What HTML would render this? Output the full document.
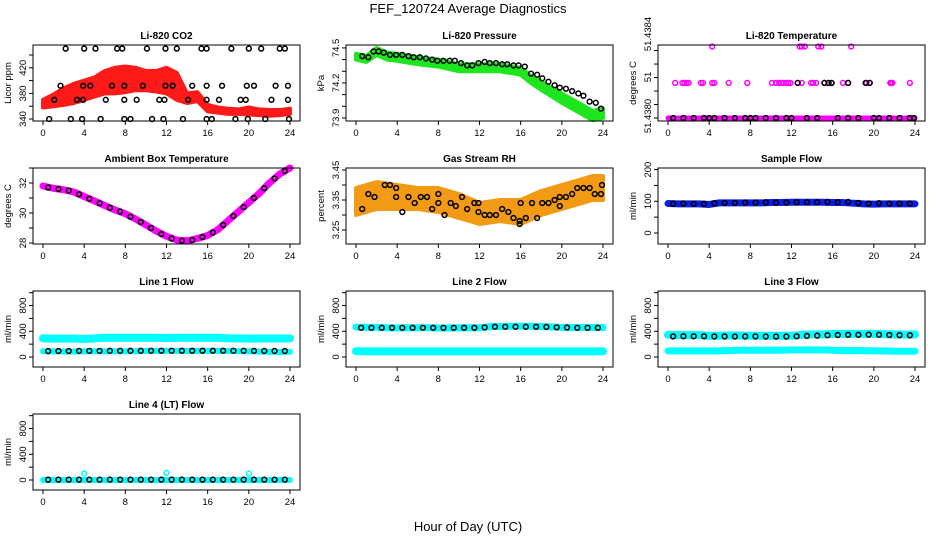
<!DOCTYPE html>
<html><head><meta charset="utf-8"><style>
html,body{margin:0;padding:0;background:#fff;}
svg{display:block;font-family:"Liberation Sans",Arial,sans-serif;}
</style></head><body>
<svg id="fig" width="936" height="540" viewBox="0 0 936 540">
<text x="468" y="13" text-anchor="middle" font-size="13">FEF_120724  Average Diagnostics</text>
<text x="468" y="531" text-anchor="middle" font-size="13">Hour of Day (UTC)</text>
</svg>
<script>
// ---------- data ----------
const hourTicks=[0,4,8,12,16,20,24];
const hrs25=[0,1,2,3,4,5,6,7,8,9,10,11,12,13,14,15,16,17,18,19,20,21,22,23,24];
const hrsMid=[0.5,1.5,2.5,3.5,4.5,5.5,6.5,7.5,8.5,9.5,10.5,11.5,12.5,13.5,14.5,15.5,16.5,17.5,18.5,19.5,20.5,21.5,22.5,23.5];

// CO2
const co2Lo=[358,360,362,365,370,375,380,380,382,385,385,383,380,370,365,368,352,350,348,348,347,346,345,346,348];
const co2Hi=[370,378,388,395,400,405,415,420,422,420,415,415,420,412,380,382,362,358,356,355,358,355,354,354,356];
const co2BlackHour=[2.2,4,5.1,7.2,7.7,10.1,11.9,13,15.4,15.9,18.3,20,21.2,23,23.5,1.7,3.9,4.6,6.7,7.9,9.7,11.9,12.6,14.5,15.9,17.4,19.8,20.5,22.6,23.8,1.1,3.3,3.9,6.1,7.9,9.1,11.3,11.8,14.1,15.9,17.1,19.2,19.7,22.2,23.8,0.6,2.7,3.8,5.6,7.9,8.5,10.6,11.7,13.6,15.9,16.4,18.7,19.9,21.6,23.9];
const co2BlackPpm=[450,450,450,450,450,450,450,450,450,450,450,450,450,450,450,392,392,392,392,392,392,392,392,392,392,392,392,392,392,392,370,370,370,370,370,370,370,370,370,370,370,370,370,370,370,340,340,340,340,340,340,340,340,340,340,340,340,340,340,340];

// Pressure
const presHour=[0,1,2,3,4,6,8,10,12,14,16,17,18,20,22,23,24];
const presLo=[74.40,74.38,74.44,74.40,74.39,74.36,74.34,74.30,74.30,74.30,74.27,74.20,74.14,74.03,73.93,73.88,73.90];
const presHi=[74.45,74.43,74.50,74.46,74.45,74.42,74.40,74.36,74.36,74.36,74.33,74.26,74.21,74.11,74.01,73.96,73.98];
const presBlackHour=[0.6,1.2,1.7,2.2,2.7,3.3,3.9,4.5,5.1,5.6,6.2,6.8,7.4,7.9,8.5,9.1,9.6,10.2,10.8,11.3,11.9,12.5,13.0,13.6,14.2,14.7,15.3,15.8,16.4,17.0,17.6,18.1,18.7,19.3,19.8,20.4,21.0,21.6,22.1,22.7,23.3,23.8];
const presBlack=[74.43,74.42,74.47,74.47,74.46,74.44,74.44,74.44,74.43,74.42,74.42,74.41,74.40,74.39,74.39,74.39,74.39,74.37,74.35,74.35,74.37,74.38,74.37,74.37,74.36,74.36,74.35,74.35,74.34,74.28,74.27,74.24,74.21,74.18,74.16,74.15,74.13,74.11,74.09,74.04,74.03,73.98];

// Li-820 temperature
const tempMidHour=[0.7,1.4,1.6,1.8,2.0,3.2,3.4,4.3,4.5,5.9,7.7,10.1,10.5,10.8,11.0,11.2,11.5,11.7,11.9,12.6,13.0,13.9,14.1,14.4,15.2,15.6,15.9,17.0,17.5,19.3,19.6,21.6,21.7,21.8,23.5];
const tempMid=[51.43826,51.43826,51.43826,51.43826,51.43826,51.43826,51.43826,51.43826,51.43826,51.43826,51.43826,51.43826,51.43826,51.43826,51.43826,51.43826,51.43826,51.43826,51.43826,51.43826,51.43826,51.43826,51.43826,51.43826,51.43826,51.43826,51.43826,51.43826,51.43826,51.43826,51.43826,51.43826,51.43826,51.43826,51.43826];
const tempTopHour=[4.3,12.8,13.0,13.3,14.6,14.9,17.8];
const tempTop=[51.43853,51.43853,51.43853,51.43853,51.43853,51.43853,51.43853];
const tempBlackHour=[0.5,1.5,2.5,3.5,4.0,4.5,5.5,6.5,7.5,8.0,8.5,9.5,10.5,11.5,12.0,12.6,13.5,14.5,15.2,15.6,15.9,16.5,17.5,17.5,18.5,19.2,19.6,20.0,20.5,21.5,22.5,23.5,23.9];
const tempBlack=[51.4380,51.4380,51.4380,51.4380,51.4380,51.4380,51.4380,51.4380,51.4380,51.4380,51.4380,51.4380,51.4380,51.4380,51.4380,51.43826,51.4380,51.4380,51.43826,51.43826,51.43826,51.4380,51.4380,51.43826,51.4380,51.43826,51.43826,51.4380,51.4380,51.4380,51.4380,51.4380,51.4380];

// Ambient box temperature
const ambient=[31.8,31.65,31.55,31.4,31.1,30.8,30.5,30.2,29.95,29.6,29.2,28.8,28.45,28.2,28.15,28.3,28.5,28.9,29.5,30.1,30.7,31.3,32.0,32.6,33.0];
const ambientBlack=[31.7,31.6,31.5,31.25,30.95,30.65,30.35,30.1,29.75,29.4,29.0,28.6,28.3,28.15,28.2,28.4,28.7,29.2,29.8,30.4,31.0,31.65,32.3,32.8];

// Gas stream RH
const rhHour=[0,2,4,6,8,10,12,14,16,18,20,22,23,24];
const rhLo=[3.30,3.32,3.32,3.32,3.31,3.29,3.27,3.28,3.27,3.30,3.32,3.34,3.35,3.35];
const rhHi=[3.39,3.41,3.40,3.39,3.39,3.37,3.34,3.35,3.35,3.38,3.40,3.42,3.43,3.43];
const rhBlackHour=[0.6,1.2,1.8,2.8,3.3,3.9,3.9,4.5,5.1,5.7,6.3,6.9,7.4,8,8,8.6,9.2,9.7,10.3,10.8,11.5,11.9,11.9,12.5,13,13.6,14.2,14.8,15.3,15.9,15.9,16.0,16.5,17.1,17.6,18.1,18.7,19.3,19.8,19.8,20.4,21,21.5,22.1,22.7,23.2,23.8,23.9];
const rhBlack=[3.32,3.37,3.36,3.40,3.40,3.39,3.36,3.31,3.36,3.34,3.36,3.36,3.32,3.37,3.34,3.30,3.34,3.33,3.36,3.32,3.34,3.34,3.31,3.30,3.30,3.30,3.32,3.31,3.29,3.28,3.27,3.34,3.29,3.34,3.29,3.34,3.34,3.35,3.36,3.33,3.36,3.37,3.39,3.39,3.39,3.37,3.37,3.40];

// Sample flow
const sampleFlow=[93,92,92,92,90,95,95,95,95,95,96,96,97,97,97,97,96,96,94,92,91,92,92,92,92];
const sampleBlack=[92,93,92,92,94,95,95,96,96,97,96,96,97,97,97,98,97,98,95,93,94,93,93,93];

// Line flows
const line1Upper=[290,285,285,285,280,290,300,300,300,300,300,300,295,300,300,300,300,300,290,290,285,290,290,290,290];
const line1Lower=[90,90,85,85,90,90,90,90,90,90,95,95,95,95,95,95,95,95,95,90,90,85,80,80,80];
const line1Black=[92,93,93,94,95,95,96,96,96,96,97,97,97,97,97,97,97,97,96,96,95,94,94,93];
const line2Upper=[465,460,460,455,450,455,455,455,450,450,455,455,455,470,475,478,480,478,472,468,460,458,458,458,458];
const line2Lower=[90,88,88,88,88,88,88,88,88,88,88,88,88,88,88,88,88,88,88,88,88,88,88,88,88];
const line2Black=[455,455,455,455,455,455,455,455,455,455,455,455,460,470,470,470,470,470,468,462,458,455,455,455];
const line3Upper=[345,340,340,340,330,330,335,335,330,330,330,330,330,345,350,350,360,360,360,360,360,355,350,350,350];
const line3Lower=[95,95,95,95,95,95,100,105,105,105,105,105,110,110,110,110,105,100,100,100,95,95,90,90,90];
const line3Black=[320,322,322,322,320,320,318,320,320,318,318,318,322,328,332,338,342,345,345,348,345,342,340,338];
const line4Lower=[0,0,0,0,0,0,0,0,0,0,0,0,0,0,0,0,0,0,0,0,0,0,0,0,0];
const line4SpikeHour=[4,12,20];
const line4Spike=[100,110,100];
const line4Black=[5,5,5,5,5,5,5,5,5,5,5,5,5,5,5,5,5,5,5,5,5,5,5,5];

// ---------- drawing ----------
const NS='http://www.w3.org/2000/svg';
const svg=document.getElementById('fig');
const W=267,H=76;
function el(tag,attrs,parent){const e=document.createElementNS(NS,tag);for(const k in attrs)e.setAttribute(k,attrs[k]);(parent||svg).appendChild(e);return e;}

function panel(name,L,T,ymin,ymax,title,ylab,yTicks,yLabels,yLabelPos){
  const g=el('g',{});
  
  
  const xs=h=>L+10+h*(247/24);
  const ys=v=>T+H-(v-ymin)/(ymax-ymin)*H;
  const t=el('text',{x:L+W/2,y:T-6,'text-anchor':'middle','font-size':10,'font-weight':'bold'},g);
  t.textContent=title;
  
  
  const yl=el('text',{x:0,y:0,'text-anchor':'middle','font-size':9.5,transform:`translate(${L-22},${T+H/2}) rotate(-90)`},g);
  yl.textContent=ylab;
  
  
  hourTicks.forEach(h=>{
    const tk=el('line',{x1:xs(h),x2:xs(h),y1:T+H,y2:T+H+4,stroke:'#000','stroke-width':1},g);
    
    
    const lb=el('text',{x:xs(h),y:T+H+15,'text-anchor':'middle','font-size':9.5},g);
    lb.textContent=h;
    
    
  });
  yTicks.forEach((v,i)=>{
    const tk=el('line',{x1:L-4,x2:L,y1:ys(v),y2:ys(v),stroke:'#000','stroke-width':1},g);
    
    
    if(yLabels[i]!==''){
      const cy=yLabelPos?yLabelPos[i]:ys(v);
      const lb=el('text',{x:0,y:0,'text-anchor':'middle','font-size':9.5,transform:`translate(${L-7},${cy}) rotate(-90)`},g);
      lb.textContent=yLabels[i];
      
      
    }
  });
  const plot=el('g',{},g);
  
  
  const box=el('rect',{x:L,y:T,width:W,height:H,fill:'none',stroke:'#000','stroke-width':1},g);
  
  
  return {xs,ys,plot};
}
function bandPoly(p,hours,lo,hi,fill,name){
  const pts=hours.map((h,i)=>p.xs(h)+','+p.ys(hi[i])).concat(hours.map((h,i)=>[h,i]).reverse().map(([h,i])=>p.xs(h)+','+p.ys(lo[i])));
  const b=el('polygon',{points:pts.join(' '),fill:fill,stroke:fill,'stroke-width':4,'stroke-linejoin':'round'},p.plot);
  
  
}
function thickLine(p,hours,vals,color,w,name){
  const l=el('polyline',{points:hours.map((h,i)=>p.xs(h)+','+p.ys(vals[i])).join(' '),fill:'none',stroke:color,'stroke-width':w,'stroke-linejoin':'round','stroke-linecap':'round'},p.plot);
  
  
}
function circles(p,hours,vals,color,name,r){
  hours.forEach((h,i)=>{
    const c=el('circle',{cx:p.xs(h),cy:p.ys(vals[i]),r:r||2.4,fill:'none',stroke:color,'stroke-width':1.5},p.plot);
    
    
  });
}
const cols=[33,346,658],rows=[45,168,291,414];
const flowTicks=[0,200,400,600,800,1000],flowLabels=['0','','400','','800',''];

let p=panel('co2',cols[0],rows[0],336.9,455.6,'Li-820 CO2','Licor ppm',[340,360,380,400,420,440],['340','','380','','420','']);
bandPoly(p,hrs25,co2Lo,co2Hi,'#ff1a1a','co2-red-cloud');
circles(p,co2BlackHour,co2BlackPpm,'#000','co2-black-point');

p=panel('pressure',cols[1],rows[0],73.874,74.525,'Li-820 Pressure','kPa',[73.9,74.0,74.1,74.2,74.3,74.4,74.5],['73.9','','','74.2','','','74.5']);
bandPoly(p,presHour,presLo,presHi,'#1ee61e','pressure-green-cloud');
circles(p,presBlackHour,presBlack,'#000','pressure-black-point');

p=panel('li820-temp',cols[2],rows[0],51.437978,51.438541,'Li-820 Temperature','degrees C',[51.4380,51.4381,51.4382,51.4383,51.4384,51.4385],['51.4380','','51','','51.4384',''],[116,0,77,0,34,0]);
thickLine(p,[0,24],[51.4380,51.4380],'#ff00ff',5,'temp-magenta-base');
circles(p,tempMidHour,tempMid,'#ff00ff','temp-magenta-point');
circles(p,tempTopHour,tempTop,'#ff00ff','temp-magenta-point');
circles(p,tempBlackHour,tempBlack,'#000','temp-black-point');

p=panel('ambient-temp',cols[0],rows[1],27.933,33.0,'Ambient Box Temperature','degrees C',[28,29,30,31,32,33],['28','','30','','32','']);
thickLine(p,hrs25,ambient,'#ff00ff',7,'ambient-magenta-line');
circles(p,hrsMid,ambientBlack,'#000','ambient-black-point');

p=panel('gas-rh',cols[1],rows[1],3.2033,3.4567,'Gas Stream RH','percent',[3.25,3.30,3.35,3.40,3.45],['3.25','','3.35','','3.45']);
bandPoly(p,rhHour,rhLo,rhHi,'#f29a14','rh-orange-cloud');
circles(p,rhBlackHour,rhBlack,'#000','rh-black-point');

p=panel('sample-flow',cols[2],rows[1],-34.7,205,'Sample Flow','ml/min',[0,50,100,150,200],['0','','100','','200']);
thickLine(p,hrs25,sampleFlow,'#0a1ee6',7,'sample-blue-line');
circles(p,hrsMid,sampleBlack,'#000','sample-black-point');

p=panel('line1-flow',cols[0],rows[2],-155.5,1026,'Line 1 Flow','ml/min',flowTicks,flowLabels);
thickLine(p,hrs25,line1Upper,'#00ffff',8,'line1-cyan-upper');
thickLine(p,hrs25,line1Lower,'#00ffff',6,'line1-cyan-lower');
circles(p,hrsMid,line1Black,'#000','line1-black-point');

p=panel('line2-flow',cols[1],rows[2],-155.5,1026,'Line 2 Flow','ml/min',flowTicks,flowLabels);
thickLine(p,hrs25,line2Upper,'#00ffff',7,'line2-cyan-upper');
thickLine(p,hrs25,line2Lower,'#00ffff',8,'line2-cyan-lower');
circles(p,hrsMid,line2Black,'#000','line2-black-point');

p=panel('line3-flow',cols[2],rows[2],-155.5,1026,'Line 3 Flow','ml/min',flowTicks,flowLabels);
thickLine(p,hrs25,line3Upper,'#00ffff',8,'line3-cyan-upper');
thickLine(p,hrs25,line3Lower,'#00ffff',7,'line3-cyan-lower');
circles(p,hrsMid,line3Black,'#000','line3-black-point');

p=panel('line4-flow',cols[0],rows[3],-155.5,1026,'Line 4 (LT) Flow','ml/min',flowTicks,flowLabels);
thickLine(p,hrs25,line4Lower,'#00ffff',6,'line4-cyan-line');
circles(p,line4SpikeHour,line4Spike,'#00ffff','line4-cyan-spike');
circles(p,hrsMid,line4Black,'#000','line4-black-point');
</script>
</body></html>
